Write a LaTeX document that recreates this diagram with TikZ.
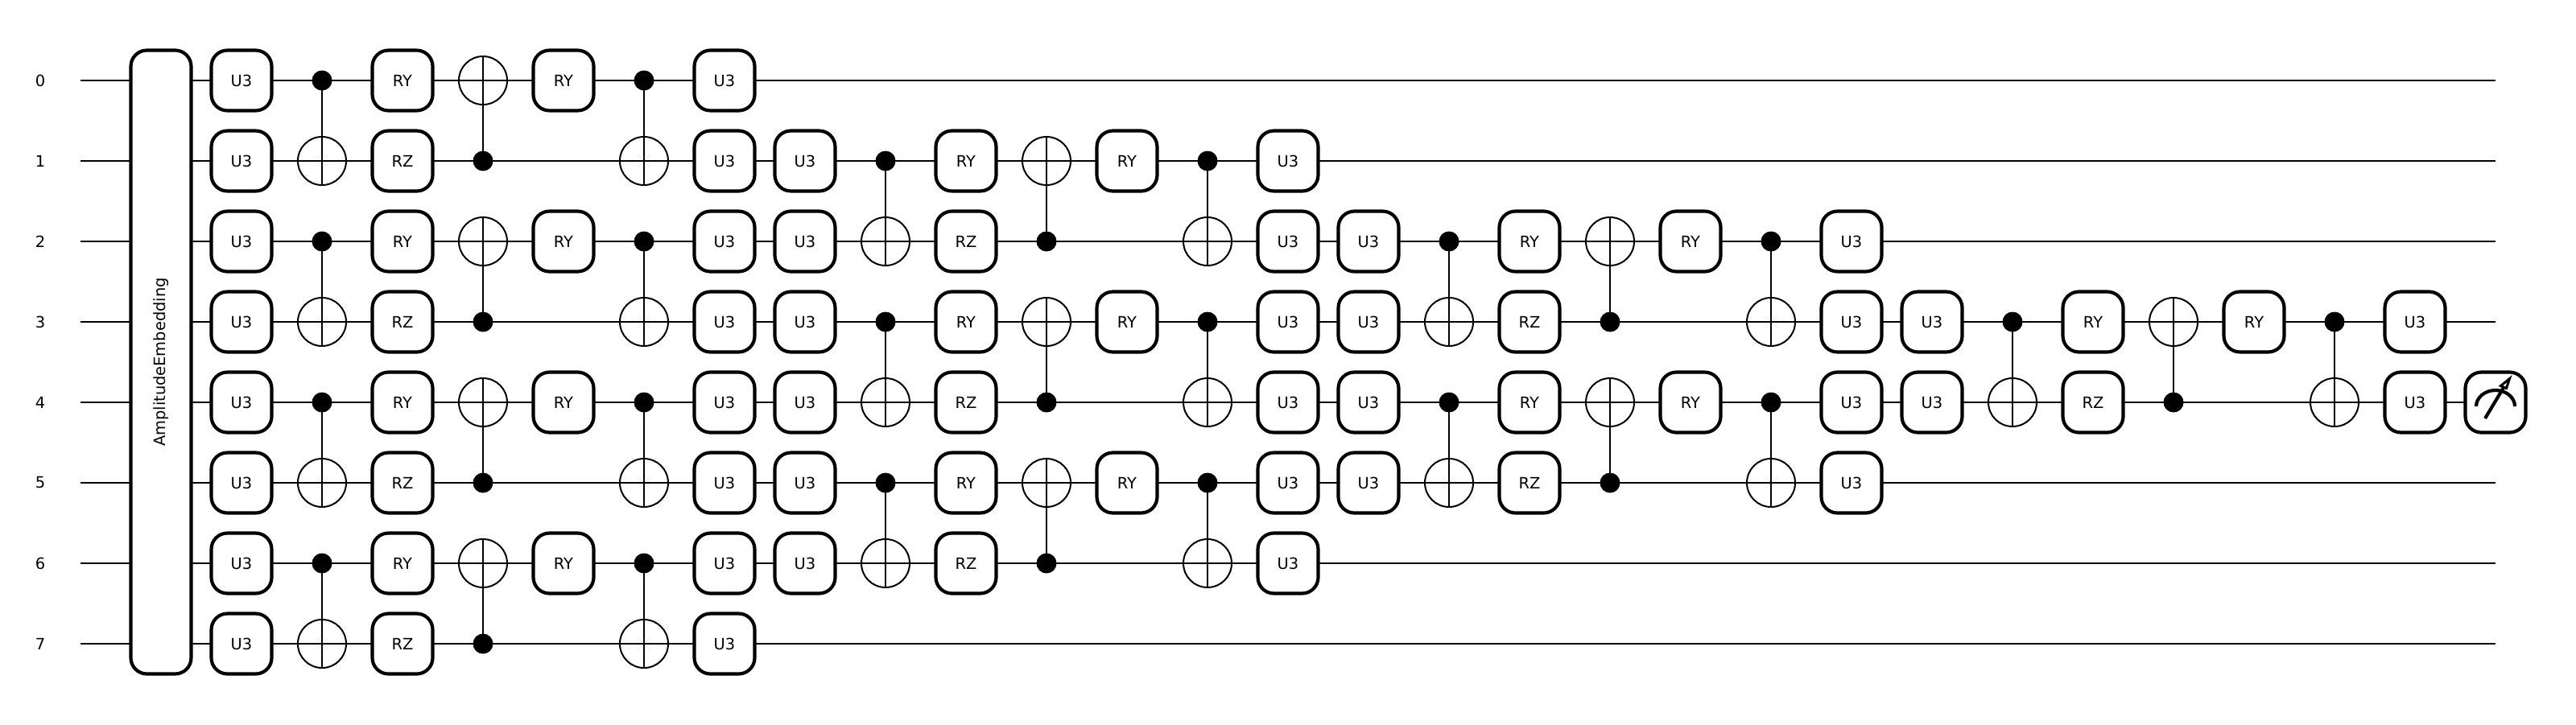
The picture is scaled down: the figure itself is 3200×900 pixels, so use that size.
\documentclass[tikz,border=0pt]{standalone}
\usepackage{fontspec}
\setmainfont{DejaVu Sans}
\newcommand{\gatesize}{\fontsize{19.44}{24}\selectfont}
\tikzset{
  wireline/.style={draw=black,line width=2.2pt,line cap=butt},
  wirelabel/.style={font=\gatesize,inner sep=0pt,text=black},
  gatebox/.style={draw=black,fill=white,line width=4.17pt,rounded corners=20pt,
    minimum width=75pt,minimum height=75pt,inner sep=0pt,font=\gatesize,text=black},
  embedbox/.style={gatebox,minimum height=775pt},
  ctrldot/.style={circle,fill=black,draw=none,minimum size=25pt,inner sep=0pt,outer sep=0pt},
  targetring/.style={circle,draw=black,line width=2pt,minimum size=60pt,inner sep=0pt,outer sep=0pt},
  ctrlline/.style={draw=black,line width=2.2pt},
  meterline/.style={draw=black,line width=4.17pt},
  meterhead/.style={draw=black,fill=white,line width=3pt,line join=miter,miter limit=10},
}
\begin{document}
\begin{tikzpicture}[x=1pt,y=-1pt]
\useasboundingbox (0,0) rectangle (3200,900);
% wires
\foreach \w in {0,...,7}{
  \node[wirelabel] (lab\w) at (50,100+100*\w) {\w};
  \coordinate (ws\w) at (100,100+100*\w);
  \coordinate (we\w) at (3100,100+100*\w);
  \draw[wireline] (ws\w) -- (we\w);
}
% amplitude embedding
\node[embedbox] (ae) at (200,450) {\rotatebox{90}{AmplitudeEmbedding}};
% gates: column/wires/label
\foreach \x/\wl/\t in {
 300/{0,...,7}/U3, 900/{0,...,7}/U3, 1000/{1,...,6}/U3, 1600/{1,...,6}/U3,
 1700/{2,3,4,5}/U3, 2300/{2,3,4,5}/U3, 2400/{3,4}/U3, 3000/{3,4}/U3,
 500/{0,2,4,6}/RY, 500/{1,3,5,7}/RZ, 700/{0,2,4,6}/RY,
 1200/{1,3,5}/RY, 1200/{2,4,6}/RZ, 1400/{1,3,5}/RY,
 1900/{2,4}/RY, 1900/{3,5}/RZ, 2100/{2,4}/RY,
 2600/{3}/RY, 2600/{4}/RZ, 2800/{3}/RY}{
  \foreach \w in \wl {
    \node[gatebox] (g\x-\w) at (\x,100+100*\w) {\t};
  }
}
% CNOT: column/control/target/side of the ring the connector reaches
\foreach \x/\c/\t/\s in {
 400/0/1/south, 400/2/3/south, 400/4/5/south, 400/6/7/south,
 600/1/0/north, 600/3/2/north, 600/5/4/north, 600/7/6/north,
 800/0/1/south, 800/2/3/south, 800/4/5/south, 800/6/7/south,
 1100/1/2/south, 1100/3/4/south, 1100/5/6/south,
 1300/2/1/north, 1300/4/3/north, 1300/6/5/north,
 1500/1/2/south, 1500/3/4/south, 1500/5/6/south,
 1800/2/3/south, 1800/4/5/south,
 2000/3/2/north, 2000/5/4/north,
 2200/2/3/south, 2200/4/5/south,
 2500/3/4/south,
 2700/4/3/north,
 2900/3/4/south}{
  \node[ctrldot] (c\x-\c) at (\x,100+100*\c) {};
  \node[targetring] (t\x-\t) at (\x,100+100*\t) {};
  \draw[ctrlline] (c\x-\c.center) -- (t\x-\t.\s);
}
% measurement
\node[gatebox] (meas) at (3100,500) {};
\draw[meterline] (3076,505) arc[start angle=180,end angle=0,x radius=24,y radius=-20];
\draw[meterline] (3087,520) -- (3111,480);
\draw[meterhead] (3117.5,470.5) -- (3106.5,479.5) -- (3113.5,482.5) -- cycle;
\end{tikzpicture}
\end{document}
